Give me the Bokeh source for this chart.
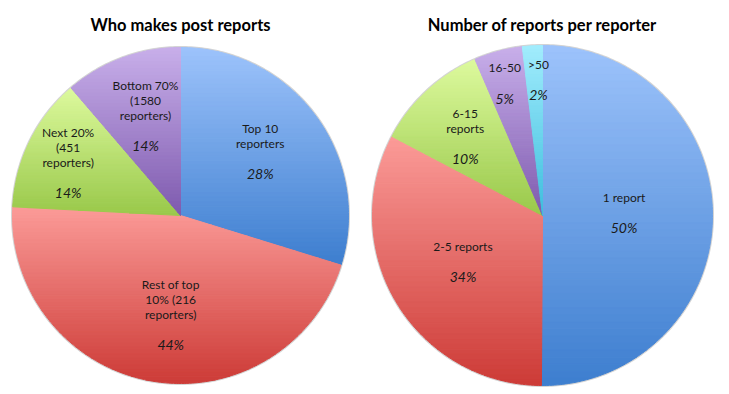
import numpy as np
from bokeh.plotting import figure
from bokeh.models import Range1d
from bokeh.embed import file_html
from bokeh.resources import INLINE
from bokeh.core.properties import value

# ---------------- data ----------------
left_title = "Who makes post reports"
left_names = [["Top 10", "reporters"],
              ["Rest of top", "10% (216", "reporters)"],
              ["Next 20%", "(451", "reporters)"],
              ["Bottom 70%", "(1580", "reporters)"]]
left_values = [29.8, 46.1, 12.9, 11.3]
left_pct = ["28%", "44%", "14%", "14%"]

right_title = "Number of reports per reporter"
right_names = [["1 report"], ["2-5 reports"], ["6-15", "reports"], ["16-50"], [">50"]]
right_values = [50.1, 32.6, 10.8, 4.6, 1.9]
right_pct = ["50%", "34%", "10%", "5%", "2%"]

# ---------------- layout / style ----------------
W, H = 729, 394
FONT = "Lato"
left_colors = [("#9DC3FB", "#3D7ECF"), ("#FB9B98", "#CD3B37"),
               ("#DDFA9E", "#99C84A"), ("#C8AFEA", "#7E5AAE")]
right_colors = [("#9DC3FB", "#3D7ECF"), ("#FB9B98", "#CD3B37"),
                ("#DDFA9E", "#99C84A"), ("#C8AFEA", "#7E5AAE"), ("#A2ECFD", "#3DBEDD")]
left_label_r = [0.61, 0.59, 0.74, 0.63]
left_label_da = [-2.5, -4.4, -0.8, 1.0]
right_label_r = [0.48, 0.54, 0.65, 0.81, 0.80]
right_label_da = [-2.0, 1.0, -1.5, -0.8, 1.7]
pies = [
    dict(cx=180, cy=215, R=168, title=left_title, names=left_names,
         values=left_values, pct=left_pct, colors=left_colors,
         lr=left_label_r, da=left_label_da),
    dict(cx=542, cy=215, R=170, title=right_title, names=right_names,
         values=right_values, pct=right_pct, colors=right_colors,
         lr=right_label_r, da=right_label_da),
]

p = figure(width=W, height=H, output_backend="svg", toolbar_location=None,
           x_range=Range1d(0, W), y_range=Range1d(H, 0),
           min_border=0)
p.axis.visible = False
p.grid.visible = False
p.outline_line_color = None
p.background_fill_color = "white"


def hex2rgb(h):
    h = h.lstrip("#")
    return np.array([int(h[i:i + 2], 16) for i in (0, 2, 4)], dtype=float)


def mix(c0, c1, t):
    c = hex2rgb(c0) * (1 - t) + hex2rgb(c1) * t
    return "#%02x%02x%02x" % tuple(int(round(v)) for v in c)


def clip(pts, lim, keep_ge):
    out = []
    n = len(pts)
    for i in range(n):
        P = pts[i]
        Q = pts[(i + 1) % n]
        inP = P[1] >= lim if keep_ge else P[1] <= lim
        inQ = Q[1] >= lim if keep_ge else Q[1] <= lim
        if inP:
            out.append(P)
        if inP != inQ:
            t = (lim - P[1]) / (Q[1] - P[1])
            out.append((P[0] + t * (Q[0] - P[0]), lim))
    return out


NB = 48
for pie in pies:
    cx, cy, R = pie["cx"], pie["cy"], pie["R"]
    vals = np.array(pie["values"], dtype=float)
    fr = vals / vals.sum()
    ends = np.cumsum(fr) * 2 * np.pi
    starts = ends - fr * 2 * np.pi

    # soft rim
    th = np.linspace(0, 2 * np.pi, 400)
    p.line(cx + (R + 0.5) * np.sin(th), cy - (R + 0.5) * np.cos(th),
           line_color="#d4d4d4", line_width=2)

    xs, ys, cols = [], [], []
    for a0, a1, (ctop, cbot) in zip(starts, ends, pie["colors"]):
        n = max(4, int((a1 - a0) / (2 * np.pi) * 400))
        aa = np.linspace(a0, a1, n)
        poly = [(cx, cy)] + [(cx + R * np.sin(a), cy - R * np.cos(a)) for a in aa]
        ymin = min(q[1] for q in poly)
        ymax = max(q[1] for q in poly)
        edges = np.linspace(ymin, ymax, NB + 1)
        for i in range(NB):
            part = clip(poly, edges[i], True)
            part = clip(part, edges[i + 1], False) if part else []
            if len(part) < 3:
                continue
            xs.append([q[0] for q in part])
            ys.append([q[1] for q in part])
            cols.append(mix(ctop, cbot, (i + 0.5) / NB))
    p.patches(xs, ys, fill_color=cols, line_color=cols, line_width=1)

    # labels
    tx, ty, tt = [], [], []
    px, py, pt = [], [], []
    for a0, a1, names, pc, rf, da in zip(starts, ends, pie["names"], pie["pct"],
                                         pie["lr"], pie["da"]):
        am = (a0 + a1) / 2 + np.radians(da)
        ax = cx + rf * R * np.sin(am)
        ay = cy - rf * R * np.cos(am)
        n = len(names)
        block = (n - 1) * 15 + 30
        top = ay - block / 2
        for k, s in enumerate(names):
            tx.append(ax)
            ty.append(top + 15 * k)
            tt.append(s)
        px.append(ax)
        py.append(top + (n - 1) * 15 + 30)
        pt.append(pc)
    p.text(tx, ty, text=tt, text_font=value(FONT), text_font_size="12px",
           text_align="center", text_baseline="middle", text_color="#1a1a1a")
    p.text(px, py, text=pt, text_font=value(FONT), text_font_size="14px",
           text_font_style="italic", text_align="center", text_baseline="middle",
           text_color="#1a1a1a")

    p.text([cx], [24], text=[pie["title"]], text_font=value(FONT),
           text_font_size="16.5px", text_font_style="bold", text_align="center",
           text_baseline="middle", text_color="#000000")

open("out.html", "w").write(file_html(p, INLINE))
